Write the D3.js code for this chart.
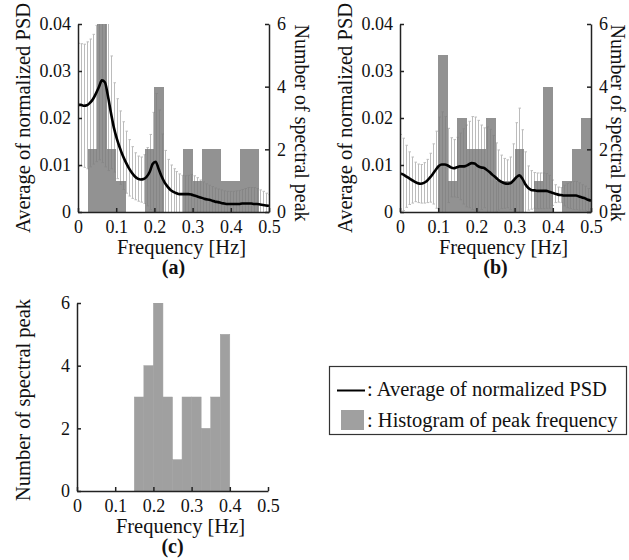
<!DOCTYPE html>
<html>
<head>
<meta charset="utf-8">
<script src="https://cdn.jsdelivr.net/npm/d3@7"></script>
<style>
  body { margin: 0; background: #fff; }
  svg text { font-family: 'Liberation Serif', 'Times New Roman', serif; }
  .axis path, .axis line { stroke: #222; stroke-width: 1.5; }
  .axis text { font-size: 18px; fill: #111; }
  .title { font-size: 20.5px; fill: #111; }
  .title.y2 { font-size: 20px; }
  .tag { font-size: 20px; font-weight: bold; fill: #111; }
</style>
</head>
<body>
<svg id="chart" width="629" height="560"></svg>
<script>
// frequency grid of the PSD (1/128 Hz steps) and histogram bins (0.025 Hz)
var freq = d3.range(65).map(function(k) { return k / 128; });
var binLo = d3.range(20).map(function(i) { return i * 0.025; });
var binWidth = 0.025;

// (a) mean and s.d. of normalized PSD
var psdMeanA = [
  .0228, .0228, .0226, .0227, .0232, .0240, .0252, .0266, .0280, .0276,
  .0248, .0212, .0180, .0156, .0137, .0120, .0106, .0094, .0084, .0076,
  .0071, .0069, .0070, .0075, .0085, .0102, .0107, .0092, .0076, .0063,
  .0054, .0047, .0043, .0040, .0038, .0038, .0038, .0038, .0037, .0035,
  .0033, .0031, .0029, .0027, .0026, .0024, .0022, .0021, .0019, .0018,
  .0017, .0017, .0017, .0017, .0017, .0018, .0018, .0018, .0018, .0017,
  .0017, .0016, .0015, .0014, .0013];
var psdSdA = [
  .0131, .0130, .0131, .0135, .0136, .0138, .0145, .0155, .0175, .0180,
  .0160, .0120, .0095, .0085, .0078, .0072, .0066, .0060, .0055, .0050,
  .0048, .0048, .0052, .0062, .0080, .0110, .0145, .0125, .0090, .0068,
  .0058, .0053, .0049, .0046, .0043, .0040, .0039, .0040, .0043, .0042,
  .0040, .0037, .0035, .0033, .0031, .0030, .0029, .0028, .0028, .0027,
  .0027, .0027, .0027, .0028, .0029, .0030, .0032, .0034, .0034, .0035,
  .0033, .0031, .0029, .0026, .0024];

// (b) mean and s.d. of normalized PSD
var psdMeanB = [
  .0082, .0080, .0076, .0072, .0068, .0064, .0061, .0060, .0062, .0066,
  .0073, .0081, .0090, .0098, .0101, .0101, .0099, .0095, .0093, .0095,
  .0097, .0097, .0098, .0101, .0104, .0103, .0098, .0095, .0094, .0090,
  .0085, .0079, .0074, .0068, .0064, .0061, .0060, .0061, .0067, .0074,
  .0078, .0071, .0059, .0051, .0047, .0046, .0045, .0045, .0045, .0045,
  .0043, .0041, .0039, .0037, .0036, .0035, .0035, .0035, .0035, .0035,
  .0033, .0031, .0029, .0026, .0024];
var psdSdB = [
  .0083, .0077, .0066, .0056, .0049, .0042, .0041, .0041, .0043, .0046,
  .0052, .0064, .0082, .0104, .0112, .0102, .0079, .0063, .0061, .0064,
  .0071, .0080, .0087, .0092, .0099, .0099, .0097, .0090, .0085, .0091,
  .0091, .0084, .0073, .0064, .0057, .0053, .0051, .0056, .0078, .0116,
  .0143, .0104, .0069, .0047, .0041, .0038, .0038, .0038, .0038, .0037,
  .0035, .0027, .0019, .0016, .0016, .0022, .0026, .0028, .0030, .0030,
  .0029, .0027, .0026, .0024, .0020];

// number of spectral peaks per 0.025 Hz bin
var peakCountA = [0, 2, 6, 2, 1, 0, 0, 2, 4, 0, 0, 2, 1, 2, 2, 1, 1, 2, 2, 0];
var peakCountB = [0, 0, 0, 0, 5, 1, 3, 2, 2, 3, 1, 1, 2, 0, 1, 4, 0, 1, 2, 3];
var peakCountC = [0, 0, 0, 0, 0, 0, 3, 4, 6, 3, 1, 3, 3, 2, 3, 5, 0, 0, 0, 0];

var psdTicks = [0, 0.01, 0.02, 0.03, 0.04];
var freqTicks = [0, 0.1, 0.2, 0.3, 0.4, 0.5];
var countTicks = [0, 2, 4, 6];

var svg = d3.select("#chart");
var fmt = d3.format("~g");
var tickLen = 4;
var serif = "'Liberation Serif', 'Times New Roman', serif";

function styleAxis(g) {
  g.attr("font-family", null).attr("font-size", null);
  g.selectAll("text").style("font-family", serif);
}

function drawPanel(opt) {
  var x = d3.scaleLinear().domain([0, 0.5]).range([opt.left, opt.left + opt.w]);
  var yc = d3.scaleLinear().domain([0, 6]).range([opt.top + opt.h, opt.top]);
  var g = svg.append("g");

  var clipId = "clip" + opt.tag;
  svg.append("clipPath").attr("id", clipId)
    .append("rect")
      .attr("x", opt.left).attr("y", opt.top)
      .attr("width", opt.w).attr("height", opt.h);

  var plot = g.append("g").attr("clip-path", "url(#" + clipId + ")");

  if (opt.mean) {
    var y = d3.scaleLinear().domain([0, 0.04]).range([opt.top + opt.h, opt.top]);

    // error bars
    var eb = plot.append("g").attr("stroke", "#bcbcbc").attr("stroke-width", 1);
    freq.forEach(function(f, i) {
      var hi = opt.mean[i] + opt.sd[i];
      var lo = Math.max(0, opt.mean[i] - opt.sd[i]);
      var px = Math.round(x(f)) + 0.5;
      eb.append("line").attr("x1", px).attr("x2", px).attr("y1", y(lo)).attr("y2", y(hi));
      eb.append("line").attr("x1", px - 1).attr("x2", px + 1.5).attr("y1", y(hi)).attr("y2", y(hi));
      if (lo > 0) {
        eb.append("line").attr("x1", px - 1).attr("x2", px + 1.5).attr("y1", y(lo)).attr("y2", y(lo));
      }
    });

    // histogram
    plot.selectAll("rect.bar")
      .data(opt.counts)
      .enter()
      .append("rect")
        .attr("class", "bar")
        .attr("x", function(d, i) { return x(binLo[i]); })
        .attr("width", function(d, i) { return x(binLo[i] + binWidth) - x(binLo[i]); })
        .attr("y", function(d) { return yc(d); })
        .attr("height", function(d) { return yc(0) - yc(d); })
        .attr("fill", "#7a7a7a")
        .attr("fill-opacity", 0.82)
        .attr("shape-rendering", "crispEdges");

    // mean PSD
    var line = d3.line()
      .x(function(d, i) { return x(freq[i]); })
      .y(function(d) { return y(d); })
      .curve(d3.curveMonotoneX);
    plot.append("path")
      .datum(opt.mean)
      .attr("d", line)
      .attr("fill", "none")
      .attr("stroke", "#000")
      .attr("stroke-width", 2.6);

    g.append("g").attr("class", "axis")
      .attr("transform", "translate(" + opt.left + ",0)")
      .call(d3.axisLeft(y).tickValues(psdTicks).tickFormat(fmt)
        .tickSizeInner(-tickLen).tickSizeOuter(0).tickPadding(7))
      .call(styleAxis);

    g.append("g").attr("class", "axis")
      .attr("transform", "translate(" + (opt.left + opt.w) + ",0)")
      .call(d3.axisRight(yc).tickValues(countTicks).tickFormat(fmt)
        .tickSizeInner(-tickLen).tickSizeOuter(0).tickPadding(8))
      .call(styleAxis);

    g.append("text").attr("class", "title")
      .attr("transform", "translate(" + opt.ylabX + "," + (opt.top + opt.h / 2) + ") rotate(-90)")
      .attr("text-anchor", "middle")
      .text("Average of normalized PSD");

    g.append("text").attr("class", "title y2")
      .attr("transform", "translate(" + opt.y2labX + "," + (opt.top + opt.h / 2 + 5) + ") rotate(90)")
      .attr("text-anchor", "middle")
      .text("Number of spectral peak");
  } else {
    plot.selectAll("rect.bar")
      .data(opt.counts)
      .enter()
      .append("rect")
        .attr("class", "bar")
        .attr("x", function(d, i) { return x(binLo[i]); })
        .attr("width", function(d, i) { return x(binLo[i] + binWidth) - x(binLo[i]); })
        .attr("y", function(d) { return yc(d); })
        .attr("height", function(d) { return yc(0) - yc(d); })
        .attr("fill", "#a0a0a0")
        .attr("stroke", "#a0a0a0")
        .attr("stroke-width", 0.5);

    g.append("g").attr("class", "axis")
      .attr("transform", "translate(" + opt.left + ",0)")
      .call(d3.axisLeft(yc).tickValues(countTicks).tickFormat(fmt)
        .tickSizeInner(-tickLen).tickSizeOuter(0).tickPadding(7))
      .call(styleAxis);

    g.append("text").attr("class", "title")
      .attr("transform", "translate(" + opt.ylabX + "," + (opt.top + opt.h / 2 + 3) + ") rotate(-90)")
      .attr("text-anchor", "middle")
      .text("Number of spectral peak");
  }

  g.append("g").attr("class", "axis")
    .attr("transform", "translate(0," + (opt.top + opt.h) + ")")
    .call(d3.axisBottom(x).tickValues(freqTicks).tickFormat(fmt)
      .tickSizeInner(-tickLen).tickSizeOuter(0).tickPadding(8))
    .call(styleAxis);

  g.append("text").attr("class", "title")
    .attr("x", opt.left + opt.w / 2 + 8).attr("y", opt.top + opt.h + 42)
    .attr("text-anchor", "middle")
    .text("Frequency [Hz]");

  g.append("text").attr("class", "tag")
    .attr("x", opt.left + opt.w / 2).attr("y", opt.top + opt.h + 62)
    .attr("text-anchor", "middle")
    .text("(" + opt.tag + ")");
}

drawPanel({ tag: "a", left: 78, top: 24, w: 191, h: 188, mean: psdMeanA, sd: psdSdA,
  counts: peakCountA, ylabX: 30, y2labX: 295 });
drawPanel({ tag: "b", left: 400, top: 24, w: 191, h: 188, mean: psdMeanB, sd: psdSdB,
  counts: peakCountB, ylabX: 352, y2labX: 611 });
drawPanel({ tag: "c", left: 77, top: 303, w: 191, h: 188, counts: peakCountC, ylabX: 30 });

// legend
var legend = svg.append("g");
legend.append("rect")
  .attr("x", 329.5).attr("y", 366.5).attr("width", 297).attr("height", 68)
  .attr("fill", "#fff").attr("stroke", "#333").attr("stroke-width", 1.2);
legend.append("line")
  .attr("x1", 337).attr("x2", 365).attr("y1", 390.5).attr("y2", 390.5)
  .attr("stroke", "#000").attr("stroke-width", 2);
legend.append("text").attr("class", "title")
  .attr("x", 367).attr("y", 396)
  .text(": Average of normalized PSD");
legend.append("rect")
  .attr("x", 341).attr("y", 410).attr("width", 23).attr("height", 20)
  .attr("fill", "#a0a0a0");
legend.append("text").attr("class", "title")
  .attr("x", 367).attr("y", 427)
  .text(": Histogram of peak frequency");
</script>
</body>
</html>
